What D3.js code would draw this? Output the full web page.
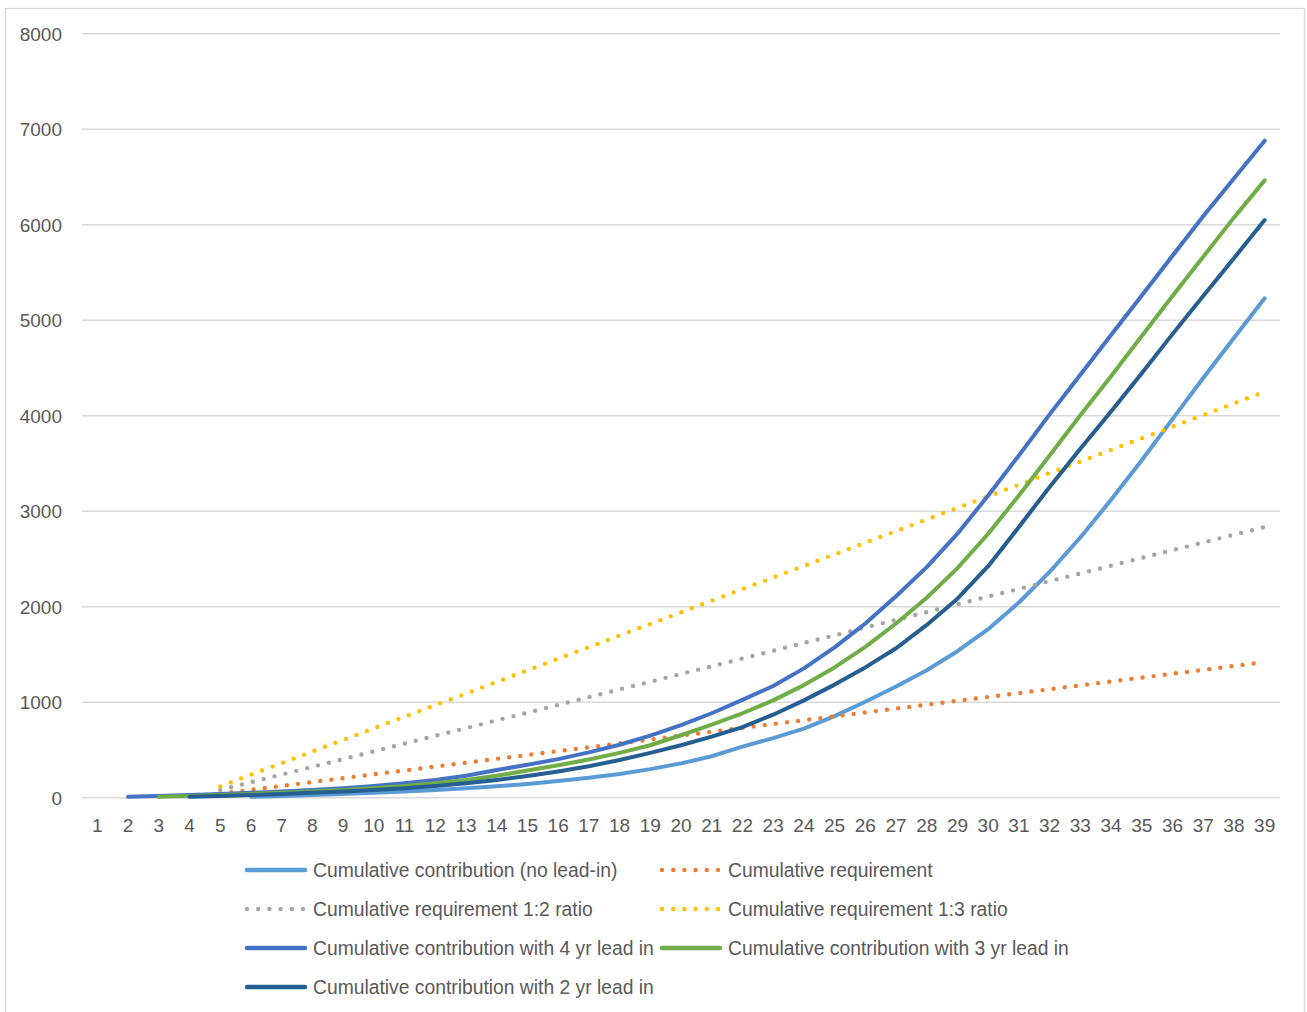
<!DOCTYPE html>
<html>
<head>
<meta charset="utf-8">
<script src="https://cdn.jsdelivr.net/npm/d3@7"></script>
<style>
  html, body { margin: 0; padding: 0; background: #ffffff; }
  svg { display: block; }
  text { font-family: "Liberation Sans", Arial, sans-serif; fill: #595959; }
</style>
</head>
<body>
<svg id="chart" width="1307" height="1012"></svg>
<script>
// Years on the category axis
const years = d3.range(1, 40).map(String);

// Y-axis tick labels
const yTicks = [0, 1000, 2000, 3000, 4000, 5000, 6000, 7000, 8000];

// Cumulative contribution, no lead-in (starts year 6)
const noLeadIn = [null, null, null, null, null,
  5, 14, 24, 35, 47, 60, 76, 95, 115, 140, 170, 205, 245, 295, 355,
  430, 530, 620, 720, 850, 1000, 1160, 1330, 1530, 1760, 2040, 2360, 2720, 3115, 3530,
  3960, 4390, 4810, 5225];

// Cumulative requirement
const requirement = [null, null, null, null,
  38, 79, 119, 160, 200, 241, 281, 322, 362, 403, 443, 484, 524, 565, 605,
  646, 686, 727, 767, 808, 848, 889, 929, 970, 1010, 1051, 1091, 1132, 1172, 1213,
  1253, 1294, 1334, 1375, 1415];

// Cumulative requirement, 1:2 ratio
const requirement12 = [null, null, null, null,
  76, 158, 238, 320, 400, 482, 562, 644, 724, 806, 886, 968, 1048, 1130, 1210,
  1292, 1372, 1454, 1534, 1616, 1696, 1778, 1858, 1940, 2020, 2102, 2182, 2264, 2344, 2426,
  2506, 2588, 2668, 2750, 2830];

// Cumulative requirement, 1:3 ratio
const requirement13 = [null, null, null, null,
  114, 237, 357, 480, 600, 723, 843, 966, 1086, 1209, 1329, 1452, 1572, 1695, 1815,
  1938, 2058, 2181, 2301, 2424, 2544, 2667, 2787, 2910, 3030, 3153, 3273, 3396, 3516, 3639,
  3759, 3882, 4002, 4125, 4245];

// Cumulative contribution with 4 yr lead in (starts year 2)
const lead4 = [null,
  5, 14, 24, 35, 47, 60, 76, 95, 118, 146, 181, 225, 285, 340, 400, 470, 550, 645,
  755, 880, 1020, 1165, 1350, 1570, 1820, 2105, 2410, 2760, 3160, 3580, 4010, 4425, 4840,
  5255, 5670, 6085, 6480, 6875];

// Cumulative contribution with 3 yr lead in (starts year 3)
const lead3 = [null, null,
  5, 14, 24, 35, 47, 60, 76, 95, 118, 146, 181, 225, 280, 335, 395, 465, 545,
  650, 760, 880, 1015, 1175, 1360, 1575, 1820, 2090, 2400, 2760, 3160, 3580, 4000, 4410,
  4830, 5250, 5660, 6070, 6460];

// Cumulative contribution with 2 yr lead in (starts year 4)
const lead2 = [null, null, null,
  5, 14, 24, 35, 47, 60, 76, 95, 118, 146, 181, 222, 270, 325, 390, 465,
  545, 635, 735, 865, 1015, 1180, 1360, 1560, 1805, 2080, 2420, 2830, 3250, 3650, 4040,
  4440, 4850, 5250, 5645, 6045];

// Series in drawing order (later ones sit on top)
const series = [
  { name: "Cumulative contribution (no lead-in)", values: noLeadIn, color: "#5B9BD5", dotted: false },
  { name: "Cumulative requirement", values: requirement, color: "#ED7D31", dotted: true },
  { name: "Cumulative requirement 1:2 ratio", values: requirement12, color: "#A5A5A5", dotted: true },
  { name: "Cumulative requirement 1:3 ratio", values: requirement13, color: "#FFC000", dotted: true },
  { name: "Cumulative contribution with 4 yr lead in", values: lead4, color: "#4472C4", dotted: false },
  { name: "Cumulative contribution with 3 yr lead in", values: lead3, color: "#70AD47", dotted: false },
  { name: "Cumulative contribution with 2 yr lead in", values: lead2, color: "#255E91", dotted: false }
];

const fontSize = 19;
const legendFontSize = 19.3;
const svg = d3.select("#chart");

// Chart area frame
svg.append("rect")
  .attr("x", 5.5).attr("y", 8.5)
  .attr("width", 1299).attr("height", 1020)
  .attr("fill", "#ffffff")
  .attr("stroke", "#D9D9D9").attr("stroke-width", 1.3);

const plot = { left: 82, right: 1280, top: 33.3, bottom: 797.3 };

const x = d3.scaleBand().domain(years).range([plot.left, plot.right]).padding(0);
const y = d3.scaleLinear().domain([0, 8000]).range([plot.bottom, plot.top]);
const xc = c => x(c) + x.bandwidth() / 2;

// Horizontal gridlines
const grid = svg.append("g")
  .attr("transform", `translate(${plot.left},0)`)
  .call(d3.axisLeft(y).tickValues(yTicks).tickSize(-(plot.right - plot.left)).tickFormat(""));
grid.select(".domain").remove();
grid.selectAll("line").attr("stroke", "#D9D9D9").attr("stroke-width", 1.5);

// Y-axis labels
const yAxis = svg.append("g")
  .attr("transform", `translate(62,0)`)
  .call(d3.axisLeft(y).tickValues(yTicks).tickSize(0).tickPadding(0).tickFormat(d3.format("d")));
yAxis.select(".domain").remove();
yAxis.selectAll("text")
  .attr("font-size", fontSize)
  .attr("fill", "#595959")
  .attr("dy", "0.36em");

// Category labels
const xAxis = svg.append("g")
  .attr("transform", `translate(0,${plot.bottom})`)
  .call(d3.axisBottom(x).tickSize(0).tickPadding(21));
xAxis.select(".domain").remove();
xAxis.selectAll("text")
  .attr("font-size", fontSize)
  .attr("fill", "#595959");

// Series lines
const lineGen = d3.line()
  .defined(d => d.v != null)
  .x(d => xc(d.c))
  .y(d => y(d.v));

const dotDash = "0 11.2";

svg.append("g").selectAll("path")
  .data(series)
  .join("path")
  .attr("d", s => lineGen(years.map((c, i) => ({ c, v: s.values[i] }))))
  .attr("fill", "none")
  .attr("stroke", s => s.color)
  .attr("stroke-width", s => s.dotted ? 4.4 : 4)
  .attr("stroke-linecap", "round")
  .attr("stroke-linejoin", "round")
  .attr("stroke-dasharray", s => s.dotted ? dotDash : null);

// Legend: two columns, entries in series order
const legendCols = [247, 662];
const legendRows = [870, 909, 948, 987];
const legend = svg.append("g").selectAll("g")
  .data(series)
  .join("g")
  .attr("transform", (s, i) => `translate(${legendCols[i % 2]},${legendRows[Math.floor(i / 2)]})`);

legend.append("line")
  .attr("x1", 0).attr("x2", 58)
  .attr("y1", 0).attr("y2", 0)
  .attr("stroke", s => s.color)
  .attr("stroke-width", 4.4)
  .attr("stroke-linecap", "round")
  .attr("stroke-dasharray", s => s.dotted ? dotDash : null);

legend.append("text")
  .attr("x", 66)
  .attr("y", 0)
  .attr("dy", "0.35em")
  .attr("font-size", legendFontSize)
  .text(s => s.name);
</script>
</body>
</html>
